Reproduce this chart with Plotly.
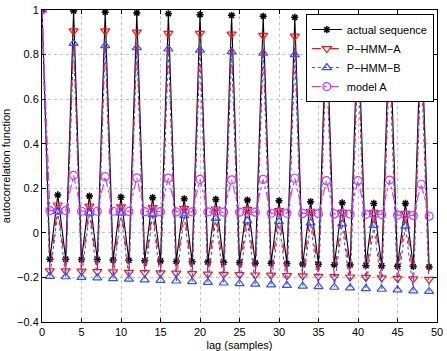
import plotly.graph_objects as go

# Data.
lags = list(range(50))

actual = [1.0,
	-0.118, 0.170, -0.118, 0.996, -0.120, 0.165, -0.120, 0.990,
	-0.122, 0.160, -0.123, 0.987, -0.125, 0.158, -0.126, 0.983,
	-0.128, 0.153, -0.130, 0.979, -0.131, 0.150, -0.132, 0.976,
	-0.133, 0.147, -0.135, 0.972, -0.136, 0.144, -0.138, 0.967,
	-0.140, 0.140, -0.141, 0.962, -0.143, 0.135, -0.144, 0.957,
	-0.146, 0.132, -0.148, 0.952, -0.150, 0.132, -0.151, 0.947,
	-0.153]

phmm_a = [1.0,
	-0.170, 0.125, -0.171, 0.906, -0.172, 0.120, -0.174, 0.906,
	-0.175, 0.117, -0.177, 0.901, -0.178, 0.113, -0.180, 0.895,
	-0.181, 0.110, -0.183, 0.895, -0.185, 0.107, -0.186, 0.892,
	-0.187, 0.105, -0.189, 0.886, -0.190, 0.100, -0.192, 0.883,
	-0.193, 0.097, -0.195, 0.878, -0.196, 0.093, -0.198, 0.874,
	-0.200, 0.092, -0.202, 0.870, -0.204, 0.087, -0.206, 0.865,
	-0.209]

phmm_b = [1.0,
	-0.195, 0.095, -0.197, 0.850, -0.200, 0.088, -0.202, 0.840,
	-0.205, 0.088, -0.208, 0.831, -0.211, 0.083, -0.213, 0.825,
	-0.216, 0.077, -0.219, 0.820, -0.222, 0.065, -0.225, 0.813,
	-0.228, 0.054, -0.230, 0.806, -0.233, 0.050, -0.236, 0.800,
	-0.239, 0.045, -0.241, 0.793, -0.244, 0.040, -0.247, 0.787,
	-0.250, 0.034, -0.253, 0.780, -0.256, 0.030, -0.260, 0.774,
	-0.263]

model_a = [1.0,
	0.100, 0.100, 0.100, 0.258, 0.097, 0.098, 0.097, 0.252,
	0.097, 0.097, 0.096, 0.247, 0.095, 0.096, 0.095, 0.246,
	0.094, 0.095, 0.094, 0.240, 0.094, 0.094, 0.093, 0.238,
	0.093, 0.093, 0.093, 0.240, 0.088, 0.090, 0.088, 0.245,
	0.087, 0.088, 0.086, 0.234, 0.085, 0.086, 0.084, 0.234,
	0.083, 0.084, 0.082, 0.237, 0.080, 0.080, 0.078, 0.218,
	0.075]

xticks = list(range(0, 51, 5))
yticks = [-0.4, -0.2, 0, 0.2, 0.4, 0.6, 0.8, 1]
ytext = ['\u22120.4', '\u22120.2', '0', '0.2', '0.4', '0.6', '0.8', '1']

font = dict(family='Liberation Sans, Arial', size=11, color='black')

fig = go.Figure()

fig.add_trace(go.Scatter(
	x=lags, y=actual, mode='lines+markers', name='actual sequence',
	line=dict(color='black', width=1.1),
	marker=dict(symbol='asterisk-open', size=6, color='black',
		line=dict(color='black', width=1.5)),
))
fig.add_trace(go.Scatter(
	x=lags, y=phmm_a, mode='lines+markers', name='P\u2212HMM\u2212A',
	line=dict(color='#ff1010', width=1.2, dash='dash'),
	marker=dict(symbol='triangle-down-open', size=8, color='#ff1010',
		line=dict(width=1.2)),
))
fig.add_trace(go.Scatter(
	x=lags, y=phmm_b, mode='lines+markers', name='P\u2212HMM\u2212B',
	line=dict(color='#3050ff', width=1.1, dash='dot'),
	marker=dict(symbol='triangle-up-open', size=8, color='#3050ff',
		line=dict(width=1.2)),
))
fig.add_trace(go.Scatter(
	x=lags, y=model_a, mode='lines+markers', name='model A',
	line=dict(color='#c040ff', width=1.2, dash='dashdot'),
	marker=dict(symbol='circle-open', size=8, color='#c040ff',
		line=dict(width=1.2)),
))

axis_style = dict(
	showline=True, linecolor='black', linewidth=1, mirror='allticks',
	ticks='inside', ticklen=4, tickcolor='black',
	showgrid=True, gridcolor='#c4c4c4', griddash='dot', gridwidth=1,
	zeroline=False, automargin=False, ticklabeloverflow='allow',
	tickfont=font,
)

fig.update_xaxes(
	range=[0, 50], tickvals=xticks,
	title=dict(text='lag (samples)', font=font),
	**axis_style,
)
fig.update_yaxes(
	range=[-0.4, 1], tickvals=yticks, ticktext=ytext,
	title=dict(text='autocorrelation function', font=font),
	**axis_style,
)

fig.update_layout(
	width=447, height=351,
	margin=dict(l=42, r=10, t=10, b=29),
	plot_bgcolor='white', paper_bgcolor='white',
	showlegend=True,
	legend=dict(
		x=0.992, y=0.987, xanchor='right', yanchor='top',
		bgcolor='white', bordercolor='black', borderwidth=1,
		font=font, tracegroupgap=0, itemwidth=30,
	),
)

# The page body has a default 8px margin; drop it so the figure sits at 0,0.
fig.write_html(
	"out.html",
	config={'displayModeBar': False},
	post_script="document.body.style.margin='0';",
)
